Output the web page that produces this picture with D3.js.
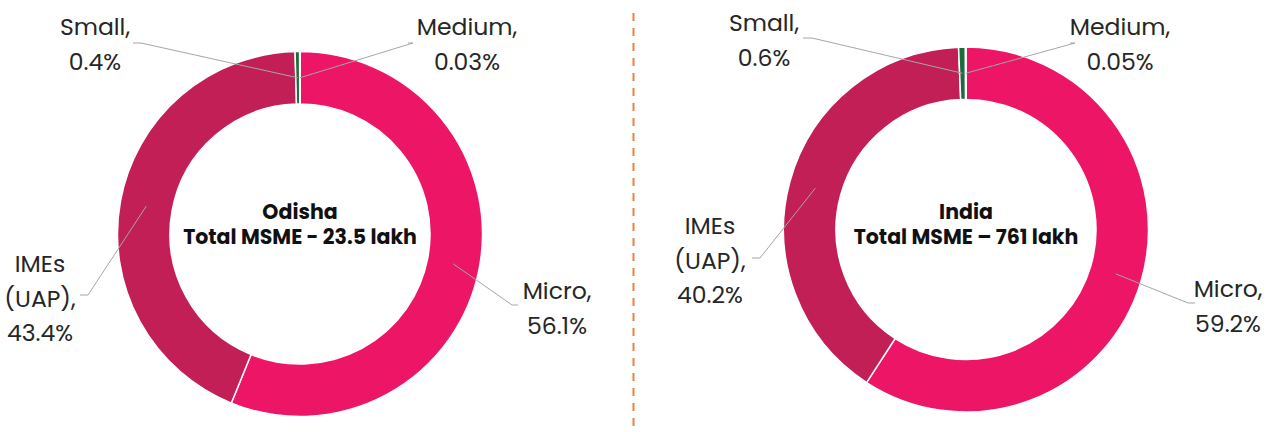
<!DOCTYPE html>
<html>
<head>
<meta charset="utf-8">
<script src="https://cdn.jsdelivr.net/npm/d3@7"></script>
<style>
  html, body { margin: 0; padding: 0; background: #fff; }
  svg text { font-family: Poppins, Inter, "Noto Sans", sans-serif; }
</style>
</head>
<body>
<script>
// data
var categories = ["Micro", "IMEs (UAP)", "Small", "Medium"];
var labelLines = [["Micro,"], ["IMEs", "(UAP),"], ["Small,"], ["Medium,"]];
var odishaValues = [56.1, 43.4, 0.4, 0.03];
var indiaValues = [59.2, 40.2, 0.6, 0.05];
var odishaLabels = ["56.1%", "43.4%", "0.4%", "0.03%"];
var indiaLabels = ["59.2%", "40.2%", "0.6%", "0.05%"];
var centerTitles = [["Odisha", "Total MSME - 23.5 lakh"], ["India", "Total MSME \u2013 761 lakh"]];

var colors = d3.scaleOrdinal()
    .domain(categories)
    .range(["#ED1566", "#C11F56", "#1C6B3B", "#4CA066"]);

var W = 1269, H = 432;
var svg = d3.select("body").append("svg")
    .attr("width", W)
    .attr("height", H);

// dashed divider
svg.append("line")
    .attr("x1", 633.5).attr("x2", 633.5)
    .attr("y1", 13).attr("y2", H)
    .attr("stroke", "#EE8040")
    .attr("stroke-width", 2)
    .attr("stroke-dasharray", "8,7");

// where the labels sit (text x, first baseline, elbow point, tail x)
var layouts = [
  { cx: 300, cy: 234,
    labels: [
      { x: 557, y: 299, ex: 512, ey: 305, tx: 518 },
      { x: 40,  y: 272, ex: 88,  ey: 295, tx: 80 },
      { x: 95,  y: 35,  ex: 141, ey: 43,  tx: 133 },
      { x: 467, y: 35,  ex: 413, ey: 43,  tx: 408 }
    ] },
  { cx: 966, cy: 229.5,
    labels: [
      { x: 1228, y: 297, ex: 1188, ey: 303, tx: 1195 },
      { x: 710,  y: 234, ex: 760,  ey: 258, tx: 752 },
      { x: 764,  y: 31,  ex: 812,  ey: 38,  tx: 803 },
      { x: 1120, y: 35,  ex: 1075, ey: 43,  tx: 1070 }
    ] }
];

var rOuter = 182.5, rInner = 130;
var arc = d3.arc().innerRadius(rInner).outerRadius(rOuter);
var midArc = d3.arc().innerRadius((rInner + rOuter) / 2).outerRadius((rInner + rOuter) / 2);
var pie = d3.pie().sort(null).value(function(d){ return d; });

function drawDonut(values, pctLabels, title, lay){
  var g = svg.append("g").attr("transform", "translate(" + lay.cx + "," + lay.cy + ")");
  var arcs = pie(values);

  g.selectAll("path.slice")
    .data(arcs)
    .enter().append("path")
    .attr("class", "slice")
    .attr("d", arc)
    .attr("fill", function(d, i){ return colors(categories[i]); })
    .attr("stroke", "#fff")
    .attr("stroke-width", 1.5);

  // leader lines + labels
  arcs.forEach(function(d, i){
    var c = midArc.centroid(d);
    var L = lay.labels[i];
    var pts = [[c[0] + lay.cx, c[1] + lay.cy], [L.ex, L.ey], [L.tx, L.ey]];
    svg.append("path")
      .attr("d", d3.line()(pts))
      .attr("fill", "none")
      .attr("stroke", "#A6A6A6")
      .attr("stroke-width", 1);

    var lines = labelLines[i].concat([pctLabels[i]]);
    var t = svg.append("text")
      .attr("text-anchor", "middle")
      .attr("font-size", 23.5)
      .attr("fill", "#262626");
    lines.forEach(function(s, k){
      t.append("tspan")
        .attr("x", L.x)
        .attr("y", L.y + k * 34.5)
        .text(s);
    });
  });

  // center title (absolute baselines 219 / 243)
  svg.append("text")
    .attr("text-anchor", "middle")
    .attr("font-size", 20.5)
    .attr("font-weight", 700)
    .attr("fill", "#111")
    .selectAll("tspan")
    .data(title)
    .enter().append("tspan")
    .attr("x", lay.cx)
    .attr("y", function(d, k){ return k === 0 ? 219 : 244; })
    .text(function(d){ return d; });
}

drawDonut(odishaValues, odishaLabels, centerTitles[0], layouts[0]);
drawDonut(indiaValues, indiaLabels, centerTitles[1], layouts[1]);
</script>
</body>
</html>
